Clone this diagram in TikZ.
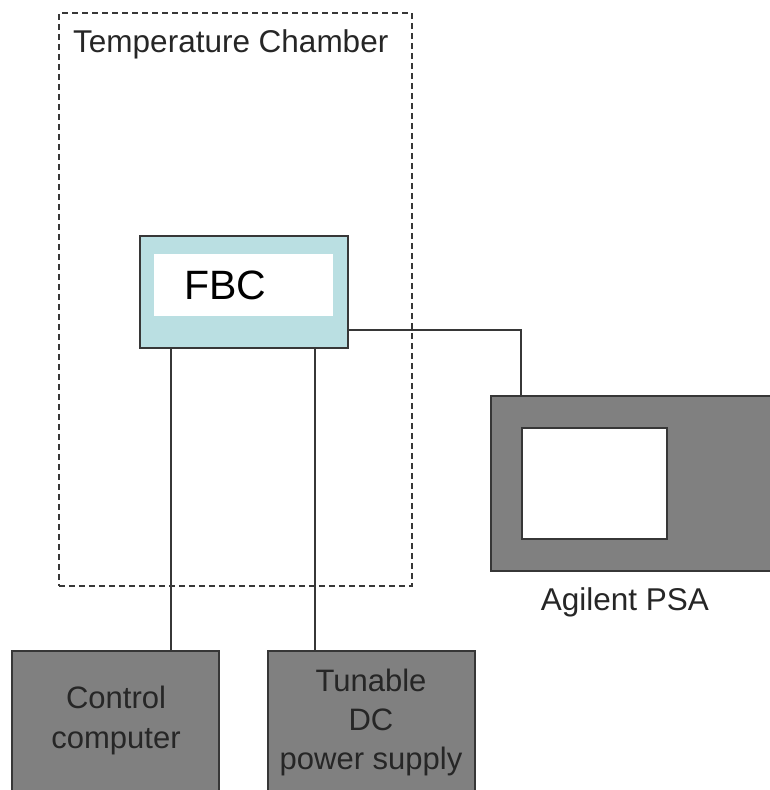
\documentclass[tikz,border=0pt]{standalone}
\usepackage{fontspec}
\setmainfont{Liberation Sans}
\definecolor{fbcfill}{RGB}{186,223,226}
\definecolor{devgray}{RGB}{128,128,128}
\definecolor{edge}{RGB}{55,55,55}
\begin{document}
\begin{tikzpicture}[x=1pt,y=-1pt,
  dev/.style={draw=edge, line width=2.2pt, fill=devgray, inner sep=0pt, anchor=north west},
  wire/.style={draw=edge, line width=2pt},
  lbl/.style={font=\fontsize{31.5}{40}\selectfont, text=black!85, inner sep=0pt}]
\useasboundingbox (0,0) rectangle (770,790);
% chamber
\node[draw=edge, dash pattern=on 6pt off 4pt, line width=1.8pt, minimum width=353pt, minimum height=573pt, inner sep=0pt, anchor=north west] (chamber) at (58,12) {};
\node[lbl, anchor=west] (chlabel) at (73,44) {Temperature Chamber};
% FBC
\node[draw=edge, line width=2.4pt, fill=fbcfill, minimum width=208pt, minimum height=112pt, inner sep=0pt, anchor=north west] (fbc) at (139,235) {};
\node[fill=white, minimum width=179pt, minimum height=62pt, inner sep=0pt, anchor=north west] (fbcin) at (154,254) {};
\node[font=\fontsize{41}{44}\selectfont, inner sep=0pt] (fbctext) at (225,285) {FBC};
% PSA
\node[dev, minimum width=300pt, minimum height=175pt] (psa) at (490,395) {};
\node[draw=edge, line width=2.2pt, fill=white, minimum width=145pt, minimum height=111pt, inner sep=0pt, anchor=north west] (screen) at (521,427) {};
\node[lbl] (psalabel) at (625,602) {Agilent PSA};
% bottom boxes
\node[dev, minimum width=207pt, minimum height=160pt] (ctrl) at (11,650) {};
\node[lbl, align=center, font=\fontsize{31}{40}\selectfont] (ctrltext) at (116,720) {Control\\computer};
\node[dev, minimum width=207pt, minimum height=160pt] (dc) at (267,650) {};
\node[lbl, align=center, font=\fontsize{31}{39}\selectfont] (dctext) at (371,722) {Tunable\\DC\\power supply};
% connectors
\coordinate (a1) at (171,347);
\coordinate (a2) at (315,347);
\coordinate (b1) at (171,650);
\coordinate (b2) at (315,650);
\coordinate (c1) at (347,330);
\coordinate (c2) at (521,395);
\draw[wire] (a1) -- (b1);
\draw[wire] (a2) -- (b2);
\draw[wire] (c1) -| (c2);
\end{tikzpicture}
\end{document}
